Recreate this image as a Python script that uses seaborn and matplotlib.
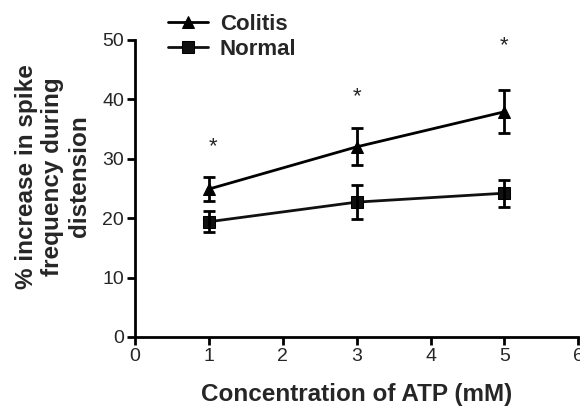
import numpy as np
import pandas as pd
import seaborn as sns
import matplotlib.pyplot as plt

# values
atp_mm = [1, 3, 5]
colitis_mean = [24.9, 32.0, 37.9]
colitis_sem = [2.0, 3.1, 3.6]
normal_mean = [19.4, 22.7, 24.2]
normal_sem = [1.8, 2.8, 2.3]
star_x = [1.05, 3.0, 5.0]
star_y = [32.0, 40.5, 49.0]

df = pd.DataFrame({
    'atp': atp_mm * 2,
    'value': colitis_mean + normal_mean,
    'group': ['Colitis'] * 3 + ['Normal'] * 3,
})

sns.set_style("ticks")
plt.rcParams['font.family'] = ['Liberation Sans', 'DejaVu Sans']

fig = plt.figure(figsize=(5.8, 4.07), dpi=100)
ax = fig.add_axes([0.233, 0.172, 0.764, 0.730])

sns.lineplot(data=df, x='atp', y='value', hue='group', style='group',
             markers={'Colitis': '^', 'Normal': 's'}, dashes=False,
             palette={'Colitis': 'black', 'Normal': '#111111'},
             linewidth=2, markersize=8, markeredgecolor='black', ax=ax)

ax.errorbar(atp_mm, colitis_mean, yerr=colitis_sem, fmt='none', ecolor='black',
            elinewidth=2, capsize=4, capthick=2)
ax.errorbar(atp_mm, normal_mean, yerr=normal_sem, fmt='none', ecolor='black',
            elinewidth=2, capsize=4, capthick=2)

for sx, sy in zip(star_x, star_y):
    ax.text(sx, sy, '*', ha='center', va='center', fontsize=16)

ax.set_xlim(0, 6)
ax.set_ylim(0, 50)
ax.set_xticks(range(0, 7))
ax.set_yticks(range(0, 51, 10))
ax.tick_params(direction='out', length=6, width=2, labelsize=14, color='black', pad=2)
for side in ['left', 'bottom']:
    ax.spines[side].set_linewidth(2)
    ax.spines[side].set_color('black')
sns.despine(ax=ax)

ax.set_xlabel('Concentration of ATP (mM)', fontsize=17.5, fontweight='bold', labelpad=13)
ax.set_ylabel('% increase in spike\nfrequency during\ndistension', fontsize=17.5,
              fontweight='bold', linespacing=1.2)
ax.yaxis.set_label_coords(-0.10, 0.54)

handles, labels = ax.get_legend_handles_labels()
ax.legend(handles, labels, loc='upper left', bbox_to_anchor=(0.266, 0.999),
          bbox_transform=fig.transFigure, frameon=False, handlelength=1.8,
          handletextpad=0.55, labelspacing=0.2, borderpad=0.1,
          prop={'weight': 'bold', 'size': 16})

fig.savefig('out.png', dpi=100)
